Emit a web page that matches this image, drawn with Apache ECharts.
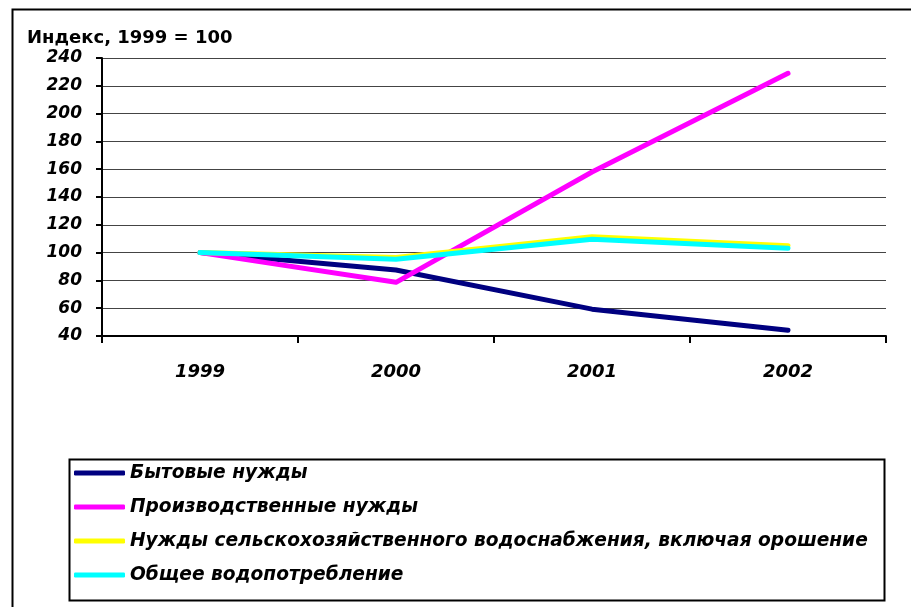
<!DOCTYPE html>
<html>
<head>
<meta charset="utf-8">
<script src="https://cdn.jsdelivr.net/npm/echarts@6/dist/echarts.min.js"></script>
<style>
  html, body { margin: 0; padding: 0; background: #fff; }
  #chart { width: 911px; height: 607px; }
</style>
</head>
<body>
<div id="chart"></div>
<script>
const years = ['1999', '2000', '2001', '2002']
const seriesNames = [
  'Бытовые нужды',
  'Производственные нужды',
  'Нужды сельскохозяйственного водоснабжения, включая орошение',
  'Общее водопотребление'
]
const household = [100, 87.5, 59.3, 44.2]
const industrial = [100, 78.6, 158, 229]
const agriculture = [100, 96.5, 111.4, 105]
const total = [100, 95.2, 109.6, 103.1]
const colors = ['#000080', '#ff00ff', '#ffff00', '#00ffff']

const font = 'DejaVu Sans'
const chart = echarts.init(document.getElementById('chart'), null, { renderer: 'canvas' })

const makeSeries = (name, data, color) => ({
  name: name,
  type: 'line',
  data: data,
  symbol: 'none',
  lineStyle: { color: color, width: 5, cap: 'round', join: 'round' },
  itemStyle: { color: color },
  animation: false
})

chart.setOption({
  backgroundColor: '#fff',
  animation: false,
  title: {
    text: 'Индекс, 1999 = 100',
    left: 27,
    top: 29,
    padding: 0,
    textStyle: { fontFamily: font, fontWeight: 'bold', fontSize: 18, color: '#000' }
  },
  grid: { left: 102, right: 25, top: 58, bottom: 271 },
  xAxis: {
    type: 'category',
    data: years,
    boundaryGap: true,
    axisLine: { lineStyle: { color: '#000', width: 2 } },
    axisTick: { show: true, length: 7, lineStyle: { color: '#000', width: 2 } },
    axisLabel: {
      margin: 27,
      fontFamily: font, fontStyle: 'italic', fontWeight: 'bold', fontSize: 18, color: '#000'
    },
    splitLine: { show: false }
  },
  yAxis: {
    type: 'value',
    min: 40,
    max: 240,
    interval: 20,
    axisLine: { show: true, lineStyle: { color: '#000', width: 2 } },
    axisTick: { show: true, length: 6, lineStyle: { color: '#000', width: 2 } },
    axisLabel: {
      margin: 20,
      fontFamily: font, fontStyle: 'italic', fontWeight: 'bold', fontSize: 17, color: '#000'
    },
    splitLine: { show: true, lineStyle: { color: '#444', width: 1 } }
  },
  legend: {
    orient: 'vertical',
    left: 74,
    top: 463,
    padding: 0,
    icon: 'roundRect',
    itemWidth: 51,
    itemHeight: 5,
    itemGap: 14,
    textStyle: {
      fontFamily: font, fontStyle: 'italic', fontWeight: 'bold', fontSize: 18.6,
      color: '#000', lineHeight: 20, padding: [0, 0, 0, 0]
    },
    data: seriesNames
  },
  graphic: [
    {
      type: 'rect',
      left: 10, top: 7,
      shape: { width: 1000, height: 700 },
      style: { fill: 'none', stroke: '#000', lineWidth: 2 },
      silent: true
    },
    {
      type: 'rect',
      left: 67, top: 457,
      shape: { width: 815, height: 141 },
      style: { fill: 'none', stroke: '#000', lineWidth: 2 },
      silent: true
    }
  ],
  series: [
    makeSeries(seriesNames[0], household, colors[0]),
    makeSeries(seriesNames[1], industrial, colors[1]),
    makeSeries(seriesNames[2], agriculture, colors[2]),
    makeSeries(seriesNames[3], total, colors[3])
  ]
})
</script>
</body>
</html>
